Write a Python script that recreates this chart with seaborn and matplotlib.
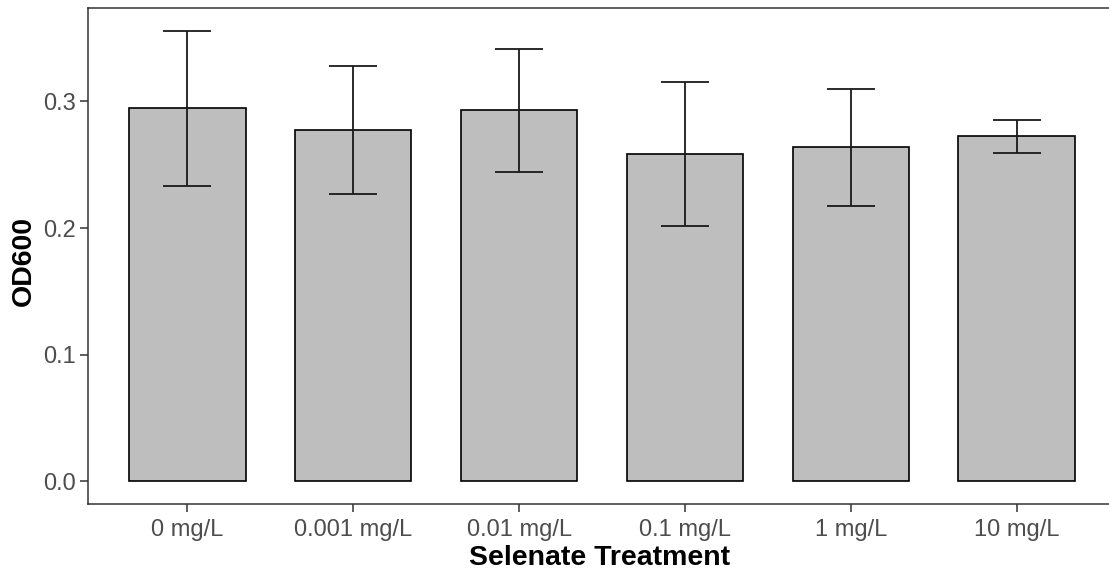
import matplotlib
matplotlib.use("Agg")
import matplotlib.pyplot as plt
import seaborn as sns
import pandas as pd

# values
treatments = ["0 mg/L", "0.001 mg/L", "0.01 mg/L", "0.1 mg/L", "1 mg/L", "10 mg/L"]
od600_mean = [0.2945, 0.2772, 0.2929, 0.2583, 0.2638, 0.2724]
od600_err = [0.0614, 0.0504, 0.0485, 0.0567, 0.0461, 0.0130]

df = pd.DataFrame({"treatment": treatments, "od600": od600_mean, "err": od600_err})

sns.set_style("white")
plt.rcParams["font.family"] = ["Liberation Sans", "DejaVu Sans"]

fig = plt.figure(figsize=(11.09, 5.74), dpi=100)
# panel runs a little past the right edge, as in the cropped reference
ax = fig.add_axes([88 / 1109, 70 / 574, 1028 / 1109, 496 / 574])

sns.barplot(data=df, x="treatment", y="od600", color="#BEBEBE", saturation=1,
            width=0.7, edgecolor="black", linewidth=1.2, errorbar=None, ax=ax)

# error bars from the precomputed spread
ax.errorbar(x=range(len(df)), y=df["od600"], yerr=df["err"], fmt="none",
            ecolor="#1a1a1a", elinewidth=1.3, capsize=17, capthick=1.3)

ax.set_xlim(-0.6, len(df) - 0.4)
ax.set_ylim(-0.0178, 0.3737)
ax.set_yticks([0.0, 0.1, 0.2, 0.3])
ax.set_yticklabels(["0.0", "0.1", "0.2", "0.3"])

for side in ax.spines.values():
    side.set_color("#333333")
    side.set_linewidth(1.1)

ax.tick_params(axis="both", which="major", length=6, width=1.1, color="#333333",
               labelsize=17, labelcolor="#4D4D4D", left=True, bottom=True)
ax.tick_params(axis="x", pad=4.5)
ax.tick_params(axis="y", pad=3)

ax.set_xlabel("Selenate Treatment", fontsize=20.5, fontweight="bold", color="black")
ax.set_ylabel("OD600", fontsize=20.5, fontweight="bold", color="black")
ax.xaxis.set_label_coords((600 - 88) / 1028, -0.082)
ax.yaxis.set_label_coords((37 - 88) / 1028, 0.49)

fig.savefig("out.png", dpi=100)
plt.close(fig)
